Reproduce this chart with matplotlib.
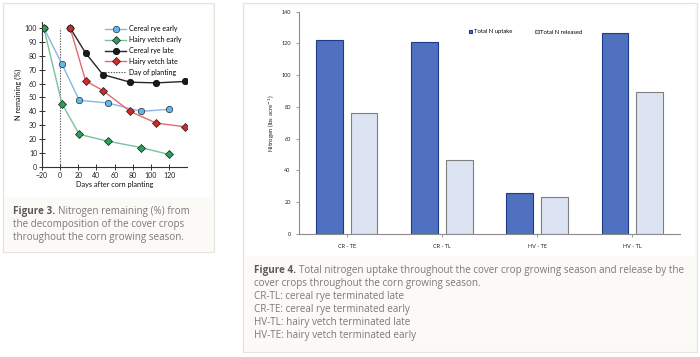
import matplotlib
matplotlib.use("Agg")
import matplotlib.pyplot as plt
from matplotlib.patches import Rectangle
from matplotlib.lines import Line2D
import numpy as np

# ---------------- data: Figure 3 ----------------
cr_early_days = [-18, 2, 21, 53, 89, 120]
cr_early_vals = [100, 74, 48, 46, 40, 41.5]
hv_early_days = [-18, 2, 21, 53, 89, 120]
hv_early_vals = [100, 45.5, 23.5, 18.5, 14, 9]
cr_late_days = [11, 28, 47, 77, 106, 137]
cr_late_vals = [100, 82, 66.5, 61, 60.5, 61.5]
hv_late_days = [11, 28, 47, 77, 106, 137]
hv_late_vals = [100, 62, 55, 40, 31.5, 29]
x_ticks3 = [-20, 0, 20, 40, 60, 80, 100, 120]
y_ticks3 = [0, 10, 20, 30, 40, 50, 60, 70, 80, 90, 100]

# ---------------- data: Figure 4 ----------------
categories = ["CR - TE", "CR - TL", "HV - TE", "HV - TL"]
n_uptake = [122.3, 120.8, 25.8, 126.6]
n_released = [76.3, 46.9, 23.3, 89.7]
y_ticks4 = [0, 20, 40, 60, 80, 100, 120, 140]

W, H = 700, 357
fig = plt.figure(figsize=(W / 100, H / 100), dpi=100)
fig.patch.set_facecolor("white")

def rect(x0, y0, x1, y1):
    return [x0 / W, 1 - y1 / H, (x1 - x0) / W, (y1 - y0) / H]

def fx(px):
    return px / W

def fy(py):
    return 1 - py / H

CAP_BG = "#fbfaf6"
BORDER = "#e6e3dc"

# panel backgrounds
for (x0, y0, x1, y1, yw) in [(3, 3, 214, 252, 198), (243, 3, 697, 352, 256)]:
    fig.patches.append(Rectangle((fx(x0), fy(y1)), fx(x1 - x0), (y1 - y0) / H,
                                 transform=fig.transFigure, facecolor=CAP_BG,
                                 edgecolor=BORDER, lw=0.8, zorder=-2))
    fig.patches.append(Rectangle((fx(x0 + 2), fy(yw)), fx(x1 - x0 - 4), (yw - y0 - 2) / H,
                                 transform=fig.transFigure, facecolor="white",
                                 edgecolor="none", lw=0, zorder=-1))

CHART_FONT = ["Lato", "DejaVu Sans"]
CAP_FONT = ["Open Sans", "DejaVu Sans"]

# ---------------- Figure 3 axes ----------------
ax1 = fig.add_axes(rect(42, 22.4, 187.3, 167))
ax1.set_zorder(2)
ax1.patch.set_alpha(0)
ax1.set_xlim(-20, 140)
ax1.set_ylim(0, 104)
ax1.axvline(0, ymin=0, ymax=100 / 104, color="#555555", ls=(0, (1.2, 1.2)), lw=0.8)
ms = 4.6
ax1.plot(cr_early_days, cr_early_vals, color="#8db3e2", lw=1.0, marker="o", ms=ms,
         mfc="#5fb8f0", mec="#2b2b2b", mew=0.5, label="Cereal rye early")
ax1.plot(hv_early_days, hv_early_vals, color="#77c39a", lw=1.0, marker="D", ms=ms - 0.8,
         mfc="#2e9e5b", mec="#1a1a1a", mew=0.5, label="Hairy vetch early")
ax1.plot(cr_late_days, cr_late_vals, color="#262626", lw=1.0, marker="o", ms=ms,
         mfc="#1a1a1a", mec="#000000", mew=0.5, label="Cereal rye late")
ax1.plot(hv_late_days, hv_late_vals, color="#e06c6c", lw=1.0, marker="D", ms=ms - 0.8,
         mfc="#d62828", mec="#1a1a1a", mew=0.5, label="Hairy vetch late")
ax1.set_xticks(x_ticks3)
ax1.set_yticks(y_ticks3)
for s in ["top", "right"]:
    ax1.spines[s].set_visible(False)
for s in ["left", "bottom"]:
    ax1.spines[s].set_color("#333333")
    ax1.spines[s].set_linewidth(0.8)
ax1.tick_params(axis="both", direction="inout", length=4, width=0.7, color="#333333",
                labelsize=5, pad=1.5, labelcolor="#222222")
for lab in ax1.get_xticklabels() + ax1.get_yticklabels():
    lab.set_family(CHART_FONT)
ax1.set_xlabel("Days after corn planting", fontsize=5.3, family=CHART_FONT, labelpad=1.5,
               color="#111111")
ax1.set_ylabel("N remaining (%)", fontsize=5.3, family=CHART_FONT, labelpad=2,
               color="#111111")
handles, labels = ax1.get_legend_handles_labels()
handles.append(Line2D([], [], color="#555555", ls=(0, (1.2, 1.2)), lw=0.8))
labels.append("Day of planting")
ax1.legend(handles, labels, loc="upper left", bbox_to_anchor=(fx(102), fy(22)),
           bbox_transform=fig.transFigure, frameon=False, handlelength=2.9,
           handletextpad=0.5, labelspacing=0.55, borderpad=0,
           prop={"family": CHART_FONT, "size": 5})

# ---------------- Figure 4 axes ----------------
ax2 = fig.add_axes(rect(299, 11.7, 680, 234))
ax2.set_zorder(2)
ax2.patch.set_alpha(0)
x = np.arange(len(categories))
bw = 0.28
off = 0.182
ax2.bar(x - off, n_uptake, bw, color="#4f71bf", edgecolor="#1f3a8a", lw=0.8,
        label="Total N uptake")
ax2.bar(x + off, n_released, bw, color="#dce3f2", edgecolor="#7f7f7f", lw=0.8,
        label="Total N released")
ax2.set_xlim(-0.5, 3.5)
ax2.set_ylim(0, 140)
ax2.set_yticks(y_ticks4)
ax2.set_xticks(x)
ax2.set_xticklabels(categories)
for s in ["top", "right"]:
    ax2.spines[s].set_visible(False)
for s in ["left", "bottom"]:
    ax2.spines[s].set_color("#8c8c8c")
    ax2.spines[s].set_linewidth(0.8)
ax2.tick_params(axis="both", length=2, width=0.6, color="#8c8c8c", labelsize=4,
                pad=4, labelcolor="#222222")
ax2.tick_params(axis="x", pad=5)
for lab in ax2.get_xticklabels() + ax2.get_yticklabels():
    lab.set_family(CHART_FONT)
ax2.set_ylabel("Nitrogen (lbs acre$^{-1}$)", fontsize=4.4, family=CHART_FONT,
               labelpad=3, color="#222222")
ax2.legend(loc="center left", bbox_to_anchor=(fx(466), fy(32)),
           bbox_transform=fig.transFigure, ncol=2, frameon=False, handlelength=0.6,
           handleheight=0.6, handletextpad=0.2, columnspacing=4.0, borderpad=0,
           prop={"family": CHART_FONT, "size": 4.2})

# ---------------- captions ----------------
CAP_COL = "#7a7a7a"
BOLD_COL = "#5a5a5a"
FS = 7.15

def caption(px, py, bold, rest):
    t = fig.text(fx(px), fy(py), bold, fontsize=FS, family=CAP_FONT, fontweight="bold",
                 color=BOLD_COL, va="baseline", ha="left")
    fig.canvas.draw()
    bb = t.get_window_extent()
    fig.text(bb.x1 / fig.bbox.width + fx(3), fy(py), rest, fontsize=FS, family=CAP_FONT,
             color=CAP_COL, va="baseline", ha="left")

caption(13, 214, "Figure 3.", "Nitrogen remaining (%) from")
fig.text(fx(13), fy(227), "the decomposition of the cover crops", fontsize=FS,
         family=CAP_FONT, color=CAP_COL, va="baseline")
fig.text(fx(13), fy(240), "throughout the corn growing season.", fontsize=FS,
         family=CAP_FONT, color=CAP_COL, va="baseline")

caption(254, 273, "Figure 4.",
        "Total nitrogen uptake throughout the cover crop growing season and release by the")
lines4 = ["cover crops throughout the corn growing season.",
          "CR-TL: cereal rye terminated late",
          "CR-TE: cereal rye terminated early",
          "HV-TL: hairy vetch terminated late",
          "HV-TE: hairy vetch terminated early"]
for i, ln in enumerate(lines4):
    fig.text(fx(254), fy(286 + 13 * i), ln, fontsize=FS, family=CAP_FONT, color=CAP_COL,
             va="baseline")

fig.savefig("out.png", dpi=100, facecolor=fig.get_facecolor())
